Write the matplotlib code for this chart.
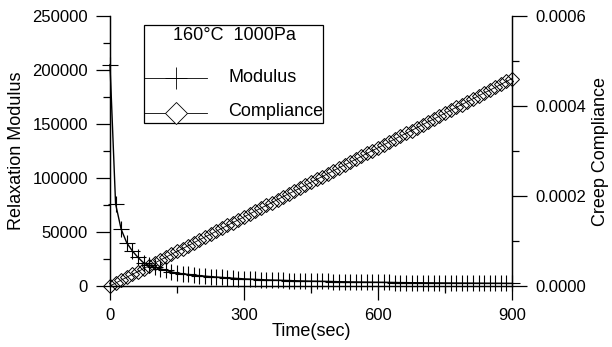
import matplotlib
matplotlib.use("Agg")
import matplotlib.pyplot as plt
from matplotlib.lines import Line2D
from matplotlib.patches import Rectangle
from matplotlib.ticker import MultipleLocator, FuncFormatter

plt.rcParams['font.family'] = ['Liberation Sans', 'DejaVu Sans']

time_sec = [0, 12.5, 25, 37.5, 50, 62.5, 75, 87.5, 100, 112.5, 125, 137.5, 150,
            162.5, 175, 187.5, 200, 212.5, 225, 237.5, 250, 262.5, 275, 287.5, 300,
            312.5, 325, 337.5, 350, 362.5, 375, 387.5, 400, 412.5, 425, 437.5, 450,
            462.5, 475, 487.5, 500, 512.5, 525, 537.5, 550, 562.5, 575, 587.5, 600,
            612.5, 625, 637.5, 650, 662.5, 675, 687.5, 700, 712.5, 725, 737.5, 750,
            762.5, 775, 787.5, 800, 812.5, 825, 837.5, 850, 862.5, 875, 887.5, 900]

modulus = [205000, 76000, 52500, 40000, 32500, 26500, 21500, 19000, 17500, 16000,
           14500, 13000, 12000, 11300, 10700, 10100, 9600, 9100, 8700, 8300, 7900,
           7600, 7200, 6900, 6600,
           6350, 6100, 5900, 5700, 5500, 5350, 5200, 5050, 4900, 4750,
           4600, 4500, 4400, 4300, 4200, 4100, 4000, 3900, 3800, 3720,
           3650, 3580, 3500, 3430, 3370, 3300, 3240, 3180, 3120, 3070,
           3020, 2970, 2920, 2880, 2840, 2800, 2760, 2720, 2690, 2660,
           2630, 2600, 2570, 2540, 2510, 2480, 2450, 2420]

# creep compliance in units of 1e-6 1/Pa
compliance_micro = [0, 6.5, 13, 19.5, 26, 32, 38.5, 45,
                    51, 57.5, 64, 70.5, 77, 83, 89.5, 96,
                    102.5, 109, 115, 121.5, 128, 134.5, 141, 147,
                    153.5, 160, 166.5, 173, 179, 185.5, 192, 198.5,
                    205, 211, 217.5, 224, 230.5, 237, 243, 249.5,
                    256, 262.5, 269, 275, 281.5, 288, 294.5, 301,
                    307, 313.5, 320, 326.5, 333, 339, 345.5, 352,
                    358.5, 365, 371, 377.5, 384, 390.5, 397, 403,
                    409.5, 416, 422.5, 429, 435, 441.5, 448, 454.5,
                    461]
compliance = [c * 1e-6 for c in compliance_micro]

W, H = 612, 347
fig = plt.figure(figsize=(W / 100, H / 100), dpi=100)
ax = fig.add_axes([110 / W, (H - 286) / H, 402 / W, 270 / H])
ax2 = ax.twinx()

fs_tick = 12
fs_lab = 13
ax.plot(time_sec, modulus, color='black', lw=1.0, marker='+', ms=11,
        mew=0.8, clip_on=False, zorder=3)
ax2.plot(time_sec, compliance, color='black', lw=0.6, marker='D', ms=6.8,
         mfc='none', mec='black', mew=0.7, clip_on=False, zorder=3)

ax.set_xlim(0, 900)
ax.set_ylim(0, 250000)
ax2.set_ylim(0, 0.0006)

for a in (ax, ax2):
    a.spines['top'].set_visible(False)
    for s in a.spines.values():
        s.set_linewidth(0.9)

ax.xaxis.set_major_locator(MultipleLocator(300))
ax.xaxis.set_minor_locator(MultipleLocator(150))
ax.yaxis.set_major_locator(MultipleLocator(50000))
ax.yaxis.set_minor_locator(MultipleLocator(25000))
ax2.yaxis.set_major_locator(MultipleLocator(0.0002))
ax2.yaxis.set_minor_locator(MultipleLocator(0.0001))
ax2.yaxis.set_major_formatter(FuncFormatter(lambda v, p: f"{v:.4f}"))

ax.tick_params(axis='both', which='major', direction='out', length=10,
               width=0.9, labelsize=fs_tick, pad=6)
ax.tick_params(axis='both', which='minor', direction='out', length=5, width=0.9)
ax2.tick_params(axis='y', which='major', direction='out', length=11,
                width=0.9, labelsize=fs_tick, pad=6)
ax2.tick_params(axis='y', which='minor', direction='out', length=5, width=0.9)

ax.set_xlabel('Time(sec)', fontsize=fs_lab, labelpad=0)
ax.set_ylabel('Relaxation Modulus', fontsize=fs_lab, labelpad=5)
ax2.set_ylabel('Creep Compliance', fontsize=fs_lab, labelpad=4)

# legend box (figure pixel coordinates)
def fx(px):
    return px / W

def fy(py):
    return (H - py) / H

x0, x1, y0, y1 = 144, 323, 25, 123
fig.add_artist(Rectangle((fx(x0), fy(y1)), fx(x1) - fx(x0), fy(y0) - fy(y1),
                         transform=fig.transFigure, fill=False,
                         edgecolor='black', lw=0.9))
fig.text(fx(234), fy(36), '160°C  1000Pa', ha='center', va='center',
         fontsize=fs_lab)
fig.add_artist(Line2D([fx(x0), fx(207)], [fy(78), fy(78)], color='black',
                      lw=0.6, transform=fig.transFigure))
fig.add_artist(Line2D([fx(176)], [fy(78)], marker='+', ms=16, mew=0.6,
                      color='black', transform=fig.transFigure))
fig.text(fx(228), fy(77), 'Modulus', ha='left', va='center', fontsize=fs_lab)
fig.add_artist(Line2D([fx(x0), fx(207)], [fy(113), fy(113)], color='black',
                      lw=0.6, transform=fig.transFigure))
fig.add_artist(Line2D([fx(176)], [fy(113)], marker='D', ms=11, mew=0.6,
                      mfc='white', mec='black', transform=fig.transFigure))
fig.text(fx(228), fy(112), 'Compliance', ha='left', va='center', fontsize=fs_lab)

fig.savefig('out.png', dpi=100)
